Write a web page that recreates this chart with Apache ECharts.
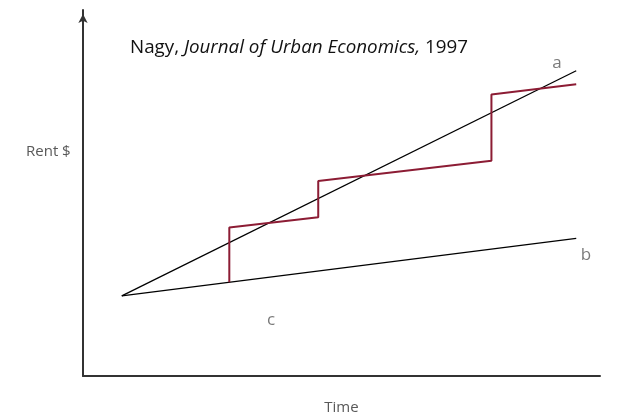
<!DOCTYPE html>
<html><head><meta charset="utf-8">
<script src="https://cdn.jsdelivr.net/npm/echarts@6/dist/echarts.min.js"></script>
<style>html,body{margin:0;padding:0;background:#fff}#c{width:621px;height:416px}</style>
</head><body><div id="c"></div>
<script>
// Data (x: time 0-100, y: rent 0-100)
var lineA = [[7.5, 21.9], [95.4, 83.4]];
var lineB = [[7.5, 21.9], [95.4, 37.6]];
var redX = [28.3, 28.3, 45.5, 45.5, 79.0, 79.0, 95.4];
var redY = [25.6, 40.6, 43.4, 53.3, 58.8, 76.9, 79.7];
var labelNames = ['a', 'b', 'c'];
var labelX = [91.7, 97.3, 36.4];
var labelY = [85.5, 33.1, 15.3];

var redData = redX.map(function (x, i) { return [x, redY[i]]; });
var labelData = labelNames.map(function (n, i) { return { value: [labelX[i], labelY[i]], name: n }; });

var FONT = 'Open Sans';
var chart = echarts.init(document.getElementById('c'));
chart.setOption({
  animation: false,
  title: {
    left: 125, top: 33,
    text: '{n|Nagy, }{i|Journal of Urban Economics,}{n| 1997}',
    textStyle: {
      fontWeight: 'normal',
      rich: {
        n: { fontFamily: FONT, fontSize: 18.8, color: '#111', fontWeight: 'normal' },
        i: { fontFamily: FONT, fontSize: 18.8, color: '#111', fontStyle: 'italic', fontWeight: 'normal' }
      }
    }
  },
  graphic: [{
    type: 'text', left: 26, top: 144,
    style: { text: 'Rent $', font: '15px "Open Sans"', fill: '#595959' }
  }],
  grid: { left: 83, right: 21, top: 10, bottom: 40, outerBoundsMode: 'none', containLabel: false },
  xAxis: {
    type: 'value', min: 0, max: 100,
    name: 'Time', nameLocation: 'middle', nameGap: 24,
    nameTextStyle: { fontFamily: FONT, fontSize: 15, color: '#595959' },
    axisLine: { lineStyle: { color: '#333', width: 2 } },
    axisTick: { show: false }, axisLabel: { show: false }, splitLine: { show: false }
  },
  yAxis: {
    type: 'value', min: 0, max: 100,
    axisLine: { show: true, symbol: ['none', 'arrow'], symbolSize: [7, 9], symbolOffset: [0, -4], lineStyle: { color: '#333', width: 2 } },
    axisTick: { show: false }, axisLabel: { show: false }, splitLine: { show: false }
  },
  series: [
    { type: 'line', data: lineA, symbol: 'none', lineStyle: { color: '#000', width: 1.3 } },
    { type: 'line', data: lineB, symbol: 'none', lineStyle: { color: '#000', width: 1.3 } },
    { type: 'line', data: redData, symbol: 'none', lineStyle: { color: '#8c1c34', width: 2 } },
    {
      type: 'scatter', data: labelData, symbolSize: 0,
      label: { show: true, position: 'inside', formatter: '{b}', fontFamily: FONT, fontSize: 17, color: '#595959' }
    }
  ]
});
</script></body></html>
